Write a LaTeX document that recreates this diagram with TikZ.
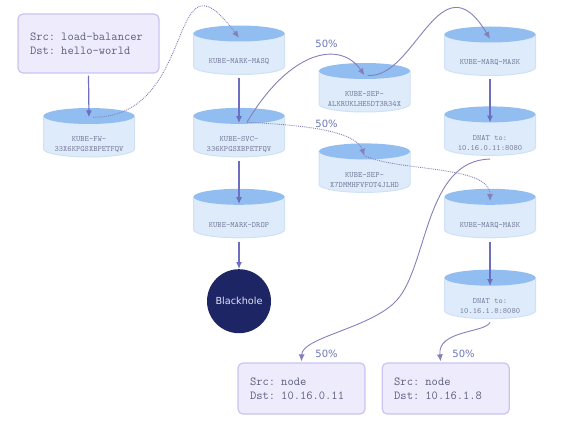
\documentclass[tikz,border=0pt]{standalone}
\usepackage{fontspec}
\usepackage{tikz}
\usetikzlibrary{positioning}
\usetikzlibrary {arrows.meta}
\newfontfamily\pctsans{DejaVu Sans}
\definecolor{boxfill}{HTML}{EEEBFD}
\definecolor{boxline}{HTML}{C9C4F1}
\definecolor{boxtext}{HTML}{5F5F7E}
\definecolor{cylbody}{HTML}{DDEBFB}
\definecolor{cyltop}{HTML}{92BDF1}
\definecolor{cylline}{HTML}{D0E1F6}
\definecolor{cyltextcol}{HTML}{7A7F9E}
\definecolor{holefill}{HTML}{1E2565}
\definecolor{holetext}{HTML}{E2E3F7}
\definecolor{pctcol}{HTML}{6B75B5}
\definecolor{flowcol}{HTML}{6D6EC0}
\definecolor{hopcol}{HTML}{8480B8}
\tikzset{srcbox/.style={rectangle,rounded corners=5pt,draw=boxline,fill=boxfill,
line width=1.2pt,inner xsep=12pt,minimum height=59pt,text width=117pt,align=left,
text=boxtext,font=\ttfamily\fontsize{12.2}{14}\selectfont}}
\tikzset{dstbox/.style={srcbox,minimum height=51pt,text width=103pt}}
\tikzset{cylbox/.style={rectangle,draw=none,inner sep=0pt,
minimum height=50pt,minimum width=92pt,
path picture={
  \path[fill=cylbody,draw=cylline,line width=1pt]
    ([xshift=0.5pt,yshift=-8.5pt]path picture bounding box.north west)
    -- ([xshift=0.5pt,yshift=8.5pt]path picture bounding box.south west)
    arc[start angle=180,end angle=360,x radius=45.5pt,y radius=8pt]
    -- ([xshift=-0.5pt,yshift=-8.5pt]path picture bounding box.north east) -- cycle;
  \path[fill=cyltop] ([yshift=-8.5pt]path picture bounding box.north)
    ellipse[x radius=45.5pt,y radius=8pt];
}}}
\tikzset{cyltext/.style={yshift=-12pt,align=center,text=cyltextcol,
font=\ttfamily\fontsize{8.1}{10}\selectfont}}
\tikzset{hole/.style={circle,fill=holefill,minimum size=64pt,inner sep=0pt,
text=holetext,font=\pctsans\fontsize{9.7}{11}\selectfont}}
\tikzset{pct/.style={text=pctcol,font=\pctsans\fontsize{10}{12}\selectfont}}
\tikzset{flow/.style={draw=flowcol,line width=1.2pt,-{Latex[length=7pt,width=6pt]}}}
\tikzset{hop/.style={draw=hopcol,line width=0.9pt,-{Latex[length=7pt,width=6pt]}}}

\begin{document}
\begin{tikzpicture}[x=1pt,y=1pt]
    \useasboundingbox (0,0) rectangle (561,-433);

    \node[srcbox] (boxSrc) at (88.5,-43.5) {Src: load-balancer\\Dst: hello-world};
    \node[cylbox,label={[cyltext]center:{KUBE-FW-\\33X6KPGSXBPETFQV}}] (cylFW) at (89,-132.5) {};

    \node[cylbox,label={[cyltext]center:{KUBE-MARK-MASQ}}] (cylMasq) at (239,-50) {};
    \node[cylbox,label={[cyltext]center:{KUBE-SVC-\\336KPGSXBPETFQV}}] (cylSvc) [below=32pt of cylMasq] {};
    \node[cylbox,label={[cyltext]center:{KUBE-MARK-DROP}}] (cylDrop) [below=30.5pt of cylSvc] {};
    \node[hole] (holeDrop) [below=30.5pt of cylDrop] {Blackhole};

    \node[cylbox,label={[cyltext]center:{KUBE-SEP-\\ALKRUKLHE5DT3R34X}}] (cylSepA) at (364.5,-87.5) {};
    \node[cylbox,label={[cyltext]center:{KUBE-SEP-\\X7DMMHFVFOT4JLHD}}] (cylSepX) [below=30pt of cylSepA] {};

    \node[cylbox,label={[cyltext]center:{KUBE-MARQ-MASK}}] (cylMask) at (490,-51) {};
    \node[cylbox,label={[cyltext]center:{DNAT to:\\10.16.0.11:8080}}] (cylDnatA) [below=29.5pt of cylMask] {};
    \node[cylbox,label={[cyltext]center:{KUBE-MARQ-MASK}}] (cylMaskB) [below=32pt of cylDnatA] {};
    \node[cylbox,label={[cyltext]center:{DNAT to:\\10.16.1.8:8080}}] (cylDnatB) [below=30.5pt of cylMaskB] {};

    \node[dstbox] (boxDstA) at (301.5,-388.5) {Src: node\\Dst: 10.16.0.11};
    \node[dstbox] (boxDstB) [right=16pt of boxDstA] {Src: node\\Dst: 10.16.1.8};

    \node[pct] (pctSepA) at (326.5,-44) {50\%};
    \node[pct] (pctSepX) at (326.5,-123.5) {50\%};
    \node[pct] (pctDstA) at (326.5,-354) {50\%};
    \node[pct] (pctDstB) at (463.5,-354) {50\%};

    % straight hops
    \draw[flow] ([yshift=-2pt]boxSrc.south) -- ([yshift=-10pt]cylFW.north);
    \draw[flow] ([yshift=-3pt]cylMasq.south) -- ([yshift=-16pt]cylSvc.north);
    \draw[flow] ([yshift=-3pt]cylSvc.south) -- ([yshift=-16pt]cylDrop.north);
    \draw[flow] ([yshift=-3pt]cylDrop.south) -- (holeDrop.north);
    \draw[flow] ([yshift=-3pt]cylMask.south) -- ([yshift=-17pt]cylDnatA.north);
    \draw[flow] ([yshift=-3pt]cylMaskB.south) -- ([yshift=-17pt]cylDnatB.north);

    % jumps between chains
    \draw[hop,densely dotted] ([xshift=4pt,yshift=-10pt]cylFW.north)
        .. controls (200,-117) and (166,60) .. ([yshift=-13pt]cylMasq.north);
    \draw[hop] ([xshift=8pt,yshift=-15pt]cylSvc.north)
        .. controls (290,-50) and (340,-40) .. ([yshift=-13pt]cylSepA.north);
    \draw[hop,densely dotted] ([xshift=8pt,yshift=-15pt]cylSvc.north)
        .. controls (300,-125) and (355,-130) .. ([yshift=-13pt]cylSepX.north);
    \draw[hop] ([xshift=3pt,yshift=-13pt]cylSepA.north)
        .. controls (415,-80) and (440,45) .. ([yshift=-13pt]cylMask.north);
    \draw[hop,densely dotted] ([yshift=-13pt]cylSepX.north)
        .. controls (400,-172) and (490,-165) .. ([yshift=-13pt]cylMaskB.north);
    \draw[hop] ([yshift=-3pt]cylDnatA.south)
        .. controls (425,-160) and (428,-265) .. (397,-300)
        .. controls (372,-328) and (302,-337) .. ([yshift=1pt]boxDstA.north);
    \draw[hop] ([yshift=-3pt]cylDnatB.south)
        .. controls (485,-333) and (437,-330) .. ([xshift=-5pt,yshift=1pt]boxDstB.north);

\end{tikzpicture}
\end{document}
